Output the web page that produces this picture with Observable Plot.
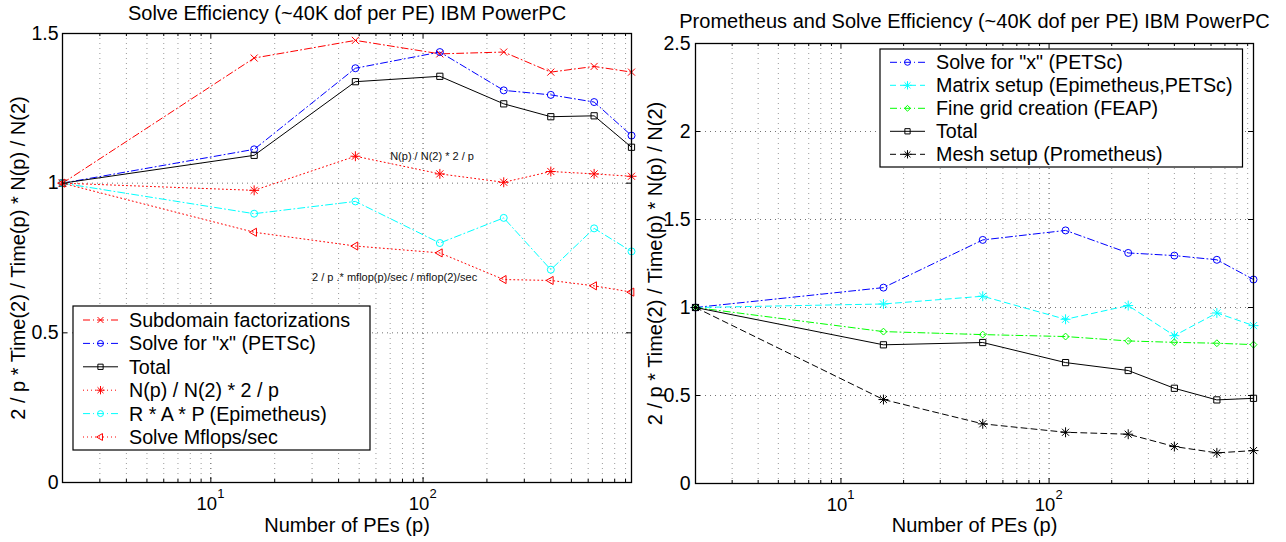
<!DOCTYPE html>
<html><head><meta charset="utf-8">
<script src="https://cdn.jsdelivr.net/npm/d3@7"></script>
<script src="https://cdn.jsdelivr.net/npm/@observablehq/plot@0.6"></script>
<style>
body{margin:0;background:#fff;}
#wrap{display:flex;width:1286px;height:542px;font-family:"Liberation Sans",Arial,Helvetica,sans-serif;}
#wrap svg{display:block;font-family:"Liberation Sans",Arial,Helvetica,sans-serif;}
</style></head><body><div id="wrap"></div>
<script>
// ---------- data ----------
const pes = [2, 16, 48, 120, 240, 400, 640, 960];
// left panel
const subdomainFact = [1, 1.418, 1.477, 1.432, 1.438, 1.371, 1.390, 1.371];
const solveX        = [1, 1.113, 1.384, 1.438, 1.310, 1.295, 1.271, 1.159];
const totalLeft     = [1, 1.093, 1.339, 1.357, 1.265, 1.222, 1.225, 1.120];
const nRatio        = [1, 0.976, 1.090, 1.031, 1.003, 1.039, 1.031, 1.023];
const rap           = [1, 0.898, 0.939, 0.800, 0.884, 0.711, 0.849, 0.772];
const mflops        = [1, 0.836, 0.790, 0.767, 0.678, 0.675, 0.657, 0.636];
// right panel
const matrixSetup   = [1, 1.020, 1.064, 0.933, 1.011, 0.840, 0.969, 0.897];
const fineGrid      = [1, 0.863, 0.846, 0.835, 0.810, 0.802, 0.797, 0.789];
const totalRight    = [1, 0.788, 0.801, 0.687, 0.642, 0.541, 0.475, 0.484];
const meshSetup     = [1, 0.477, 0.339, 0.291, 0.280, 0.210, 0.174, 0.187];

const xMajorTicks = [10, 100];
const xMinorTicks = [3, 4, 5, 6, 7, 8, 9, 20, 30, 40, 50, 60, 70, 80, 90, 200, 300, 400, 500, 600, 700, 800, 900];
const yTicksLeft  = [0, 0.5, 1, 1.5];
const yTicksRight = [0, 0.5, 1, 1.5, 2, 2.5];

const titleLeft  = "Solve Efficiency (~40K dof per PE) IBM PowerPC";
const titleRight = "Prometheus and Solve Efficiency (~40K dof per PE) IBM PowerPC";
const yLabel = "2 / p * Time(2) / Time(p) * N(p) / N(2)";
const xLabel = "Number of PEs (p)";

const annotP = [70, 30];
const annotV = [1.089, 0.686];
const annotText = ["N(p) / N(2) * 2 / p", "2 / p .* mflop(p)/sec / mflop(2)/sec"];

// ---------- styles ----------
const DASH = "7,3,1,3", DASHED = "6,4", DOT = "1,3";
const leftSeries = [
  {name: "Subdomain factorizations", values: subdomainFact, color: "#ff0000", dash: DASH, symbols: ["times"], r: 3.3},
  {name: "Solve for \"x\" (PETSc)", values: solveX, color: "#0000ff", dash: DASH, symbols: ["circle"], r: 3.5},
  {name: "Total", values: totalLeft, color: "#000000", dash: null, symbols: ["square"], r: 3.5},
  {name: "N(p) / N(2) * 2 / p", values: nRatio, color: "#ff0000", dash: DOT, symbols: ["plus", "times"], r: 3.3},
  {name: "R * A * P (Epimetheus)", values: rap, color: "#00ffff", dash: DASH, symbols: ["circle"], r: 3.5},
  {name: "Solve Mflops/sec", values: mflops, color: "#ff0000", dash: DOT, symbols: ["triangle"], r: 3.0, rotate: -90}
];
const rightSeries = [
  {name: "Solve for \"x\" (PETSc)", values: solveX, color: "#0000ff", dash: DASH, symbols: ["circle"], r: 3.5},
  {name: "Matrix setup (Epimetheus,PETSc)", values: matrixSetup, color: "#00ffff", dash: DASHED, symbols: ["plus", "times"], r: 3.3},
  {name: "Fine grid creation (FEAP)", values: fineGrid, color: "#00ff00", dash: DASH, symbols: ["diamond2"], r: 3.1},
  {name: "Total", values: totalRight, color: "#000000", dash: null, symbols: ["square"], r: 3.5},
  {name: "Mesh setup (Prometheus)", values: meshSetup, color: "#000000", dash: DASHED, symbols: ["plus", "times"], r: 3.3}
];

const d3Sym = {circle: d3.symbolCircle, times: d3.symbolTimes, plus: d3.symbolPlus, square: d3.symbolSquare, triangle: d3.symbolTriangle, diamond2: d3.symbolDiamond2};

function panel(cfg) {
  const W = cfg.width, H = 542;
  const iw = W - cfg.ml - cfg.mr, ih = H - cfg.mt - cfg.mb;
  const marks = [];
  // grid
  marks.push(Plot.ruleX(xMinorTicks, {x: d => d, stroke: "#000", strokeOpacity: 0.4, strokeDasharray: "1,4"}));
  marks.push(Plot.ruleX(xMajorTicks, {x: d => d, stroke: "#000", strokeOpacity: 0.7, strokeDasharray: "1,4"}));
  marks.push(Plot.ruleY(cfg.yTicks.slice(1), {y: d => d, stroke: "#000", strokeOpacity: 0.55, strokeDasharray: "1,4"}));
  // series
  for (const s of cfg.series) {
    const data = pes.map((p, i) => ({p, v: s.values[i]}));
    marks.push(Plot.line(data, {x: "p", y: "v", stroke: s.color, strokeWidth: 1, strokeDasharray: s.dash || undefined}));
  }
  for (const s of cfg.series) {
    const data = pes.map((p, i) => ({p, v: s.values[i]}));
    for (const sym of s.symbols) {
      marks.push(Plot.dot(data, {x: "p", y: "v", symbol: sym, r: s.r, stroke: s.color, fill: "none", strokeWidth: 1, rotate: s.rotate || 0}));
    }
  }
  // frame + inner ticks
  marks.push(Plot.frame({stroke: "#000", strokeWidth: 1.3}));
  marks.push(Plot.tickY(cfg.yTicks, {y: d => d, insetRight: iw - 5, stroke: "#000"}));
  marks.push(Plot.tickY(cfg.yTicks, {y: d => d, insetLeft: iw - 5, stroke: "#000"}));
  marks.push(Plot.tickX(xMajorTicks, {x: d => d, insetTop: ih - 5, stroke: "#000"}));
  marks.push(Plot.tickX(xMajorTicks, {x: d => d, insetBottom: ih - 5, stroke: "#000"}));
  marks.push(Plot.tickX(xMinorTicks, {x: d => d, insetTop: ih - 3, stroke: "#000"}));
  marks.push(Plot.tickX(xMinorTicks, {x: d => d, insetBottom: ih - 3, stroke: "#000"}));
  // tick labels
  marks.push(Plot.text(cfg.yTicks, {y: d => d, text: d => String(d), frameAnchor: "left", textAnchor: "end", lineAnchor: "middle", dx: cfg.yTickDx, fontSize: 19.5, fill: "#000"}));
  marks.push(Plot.text(xMajorTicks, {x: d => d, text: () => "10", frameAnchor: "bottom", textAnchor: "middle", lineAnchor: "middle", dy: 21.5, dx: -4, fontSize: 18.5, fill: "#000"}));
  marks.push(Plot.text(xMajorTicks, {x: d => d, text: d => String(Math.round(Math.log10(d))), frameAnchor: "bottom", textAnchor: "middle", lineAnchor: "middle", dy: 11, dx: 10, fontSize: 13, fill: "#000"}));
  // labels
  marks.push(Plot.text([cfg.title], {text: d => d, frameAnchor: "top", textAnchor: "middle", lineAnchor: "middle", dy: cfg.titleDy, fontSize: 20, fill: "#000"}));
  marks.push(Plot.text([yLabel], {text: d => d, frameAnchor: "left", textAnchor: "middle", lineAnchor: "middle", rotate: -90, dx: cfg.ylabelDx, fontSize: 20, fill: "#000"}));
  marks.push(Plot.text([xLabel], {text: d => d, frameAnchor: "bottom", textAnchor: "middle", lineAnchor: "middle", dy: cfg.xlabelDy, fontSize: 20, fill: "#000"}));
  if (cfg.annotations) {
    const ann = annotP.map((p, i) => ({p, v: annotV[i], t: annotText[i]}));
    marks.push(Plot.text(ann, {x: "p", y: "v", text: "t", textAnchor: "start", lineAnchor: "middle", fontSize: 11, fill: "#111"}));
  }
  const svg = Plot.plot({
    width: W, height: H,
    marginLeft: cfg.ml, marginRight: cfg.mr, marginTop: cfg.mt, marginBottom: cfg.mb,
    x: {type: "log", domain: [2, 960], axis: null},
    y: {domain: [0, cfg.yMax], axis: null},
    style: {fontFamily: "'Liberation Sans', Arial, sans-serif", background: "#fff", overflow: "visible"},
    marks
  });
  // legend (MATLAB-style box)
  const L = cfg.legend;
  const g = d3.select(svg).append("g").attr("class", "legend").attr("text-anchor", "start");
  g.append("rect").attr("x", L.x).attr("y", L.y).attr("width", L.w).attr("height", L.h)
    .attr("fill", "#fff").attr("stroke", "#000").attr("stroke-width", 1.2);
  cfg.series.forEach((s, i) => {
    const cy = L.y + L.first + i * L.step;
    g.append("line").attr("x1", L.x + 10).attr("x2", L.x + 45).attr("y1", cy).attr("y2", cy)
      .attr("stroke", s.color).attr("stroke-width", 1).attr("stroke-dasharray", s.dash || null);
    for (const sym of s.symbols) {
      const rr = s.r * 0.85;
      g.append("path").attr("d", d3.symbol(d3Sym[sym], Math.PI * rr * rr)())
        .attr("transform", `translate(${L.x + 27.5},${cy}) rotate(${s.rotate || 0})`)
        .attr("fill", "none").attr("stroke", s.color).attr("stroke-width", 1);
    }
    g.append("text").attr("x", L.x + 56).attr("y", cy).attr("dy", "0.36em")
      .attr("text-anchor", "start").attr("font-size", 19.7).attr("fill", "#000").text(s.name);
  });
  return svg;
}

const wrap = document.getElementById("wrap");
wrap.appendChild(panel({
  width: 643, ml: 62, mr: 12, mt: 33, mb: 60, yMax: 1.5, yTicks: yTicksLeft, yTickDx: -4,
  title: titleLeft, titleDy: -20, ylabelDx: -44, xlabelDy: 43, series: leftSeries, annotations: true,
  legend: {x: 73, y: 306, w: 297, h: 144, first: 14, step: 23.4}
}));
wrap.appendChild(panel({
  width: 643, ml: 52, mr: 33, mt: 43, mb: 59, yMax: 2.5, yTicks: yTicksRight, yTickDx: -5,
  title: titleRight, titleDy: -22, ylabelDx: -40, xlabelDy: 42, series: rightSeries, annotations: false,
  legend: {x: 237, y: 49, w: 362.5, h: 118, first: 13.3, step: 23}
}));
</script></body></html>
